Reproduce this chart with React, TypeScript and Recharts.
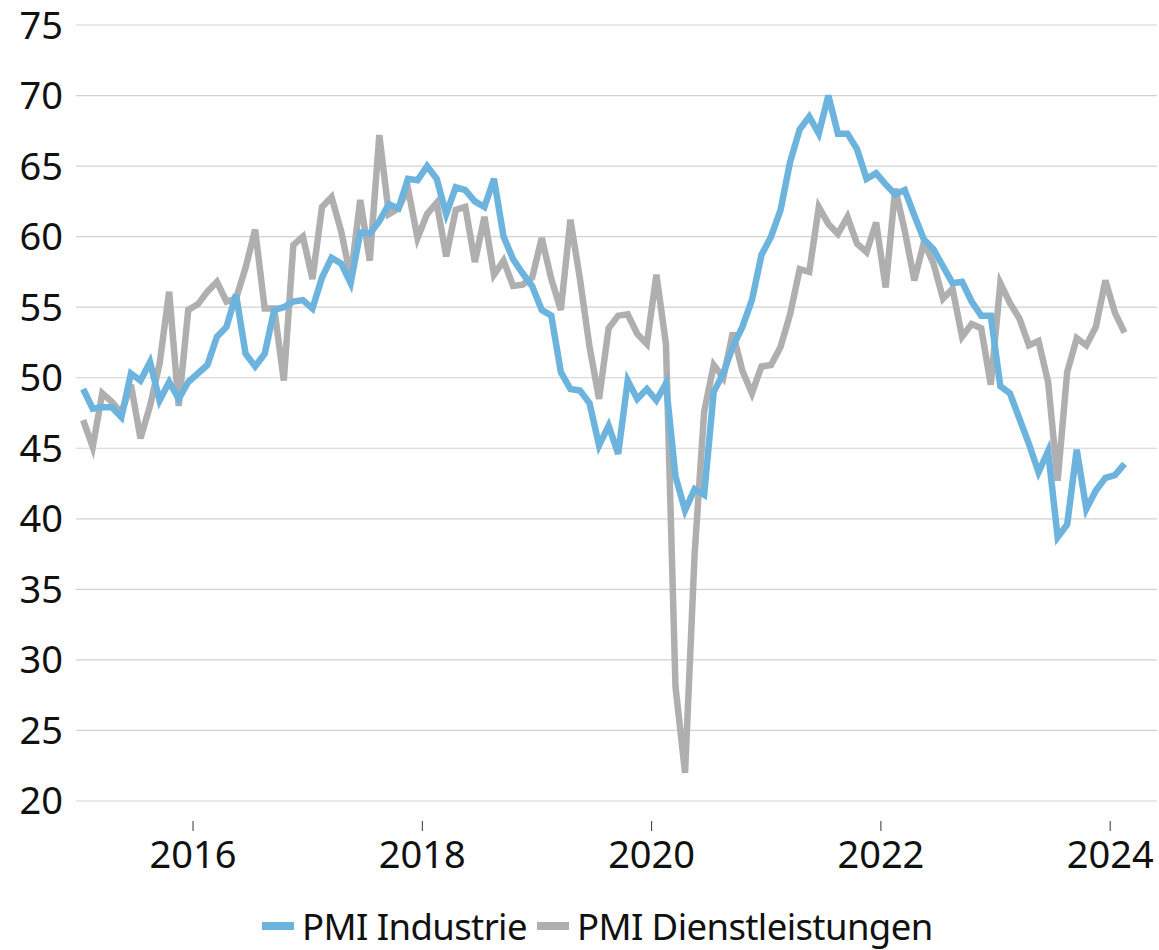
import React from "react";
import { CartesianGrid, Legend, Line, LineChart, XAxis, YAxis } from "recharts";

// monthly PMI, Jan 2015 .. Feb 2024
const INDUSTRIE = [
  49.2, 47.8, 47.9, 47.9, 47.2, 50.3, 49.8, 51.1, 48.4, 49.7, 48.5, 49.7,
  50.3, 50.9, 52.9, 53.6, 55.9, 51.7, 50.8, 51.7, 54.8, 55.0, 55.4, 55.5,
  54.9, 57.1, 58.5, 58.1, 56.7, 60.3, 60.2, 61.1, 62.3, 62.0, 64.1, 64.0,
  65.0, 64.1, 61.6, 63.5, 63.3, 62.5, 62.1, 64.1, 60.0, 58.4, 57.4, 56.5,
  54.8, 54.4, 50.4, 49.2, 49.1, 48.2, 45.2, 46.6, 44.6, 49.8, 48.5, 49.2,
  48.4, 49.6, 43.0, 40.6, 42.1, 41.7, 49.0, 50.3, 52.2, 53.6, 55.5, 58.7,
  60.0, 61.9, 65.3, 67.6, 68.5, 67.3, 70.0, 67.3, 67.3, 66.2, 64.1, 64.5,
  63.7, 63.0, 63.3, 61.5, 59.8, 59.1, 57.9, 56.7, 56.8, 55.4, 54.4, 54.4,
  49.4, 48.9, 47.1, 45.3, 43.3, 44.8, 38.7, 39.6, 44.9, 40.7, 42.0, 42.9,
  43.1, 43.9,
];

const DIENSTLEISTUNGEN = [
  47.0, 45.1, 48.9, 48.3, 47.5, 49.5, 45.7, 48.0, 51.0, 56.1, 48.0, 54.8,
  55.2, 56.1, 56.8, 55.4, 55.6, 57.8, 60.5, 54.9, 54.9, 49.8, 59.4, 60.0,
  57.0, 62.1, 62.8, 60.4, 57.1, 62.6, 58.3, 67.2, 61.6, 62.0, 63.4, 59.9,
  61.6, 62.4, 58.6, 61.9, 62.1, 58.2, 61.4, 57.3, 58.3, 56.5, 56.6, 57.1,
  59.9, 57.0, 54.8, 61.2, 57.0, 52.2, 48.5, 53.5, 54.4, 54.5, 53.1, 52.4,
  57.3, 52.4, 28.1, 22.0, 37.5, 47.6, 50.9, 50.0, 53.2, 50.5, 48.9, 50.8,
  50.9, 52.2, 54.5, 57.7, 57.5, 62.1, 60.9, 60.2, 61.4, 59.5, 58.9, 61.0,
  56.4, 63.4, 60.4, 56.9, 59.6, 58.1, 55.6, 56.3, 52.9, 53.8, 53.5, 49.5,
  56.7, 55.3, 54.2, 52.3, 52.6, 49.7, 42.7, 50.4, 52.8, 52.3, 53.6, 56.9,
  54.6, 53.2,
];

// month offsets from Jan 2015 where the year labels sit
const YEAR_TICKS = [12, 36, 60, 84, 108];
const YEAR_LABELS = ["2016", "2018", "2020", "2022", "2024"];
const Y_TICKS = [20, 25, 30, 35, 40, 45, 50, 55, 60, 65, 70, 75];

const SERIES = [
  { key: "industrie", name: "PMI Industrie", color: "#6cb4dd" },
  { key: "dienst", name: "PMI Dienstleistungen", color: "#afafaf" },
];

const FONT = "'Noto Sans', 'Open Sans', sans-serif";

const data = INDUSTRIE.map((v, i) => ({
  t: i + 0.5,
  industrie: v,
  dienst: DIENSTLEISTUNGEN[i],
}));

function YearTick(props: any) {
  const { x, y, payload } = props;
  const idx = YEAR_TICKS.indexOf(payload.value);
  return (
    <g>
      <line x1={x} x2={x} y1={y + 20} y2={y + 30} stroke="#333" strokeWidth={1} />
      <text x={x} y={y + 67} textAnchor="middle" fill="#111" fontSize={38} fontFamily={FONT}>
        {YEAR_LABELS[idx]}
      </text>
    </g>
  );
}

function LegendBox() {
  return (
    <div
      style={{
        display: "flex",
        alignItems: "center",
        height: 60,
        paddingLeft: 262,
        fontFamily: FONT,
        fontSize: 36.5,
        letterSpacing: "-0.6px",
        color: "#111",
        boxSizing: "border-box",
        paddingTop: 12,
      }}
    >
      {SERIES.map((s) => (
        <div key={s.key} style={{ display: "flex", alignItems: "center", marginRight: 10 }}>
          <span
            style={{
              display: "inline-block",
              width: 32,
              height: 8,
              background: s.color,
              marginRight: 8,
            }}
          />
          <span style={{ lineHeight: "44px" }}>{s.name}</span>
        </div>
      ))}
    </div>
  );
}

export default function App() {
  return (
    <div style={{ position: "absolute", left: 0, top: 0, width: 1159, height: 950, background: "#fff" }}>
      <LineChart
        width={1159}
        height={950}
        data={data}
        margin={{ top: 25, right: 2, left: 0, bottom: 0 }}
      >
        <CartesianGrid vertical={false} stroke="#d2d2d2" strokeWidth={1.2} />
        <XAxis
          dataKey="t"
          type="number"
          domain={[-0.25, 112.9]}
          ticks={YEAR_TICKS}
          interval={0}
          axisLine={false}
          tickLine={false}
          tickSize={0}
          tickMargin={0}
          height={89}
          tick={<YearTick />}
        />
        <YAxis
          domain={[20, 75]}
          ticks={Y_TICKS}
          interval={0}
          axisLine={false}
          tickLine={false}
          tickSize={0}
          tickMargin={13}
          width={76}
          tick={{ fontSize: 38, fill: "#111", fontFamily: FONT }}
        />
        <Legend verticalAlign="bottom" content={() => <LegendBox />} wrapperStyle={{ left: 0, width: 1159 }} />
        <Line
          type="linear"
          dataKey="dienst"
          name="PMI Dienstleistungen"
          stroke="#afafaf"
          strokeWidth={6.5}
          dot={false}
          isAnimationActive={false}
        />
        <Line
          type="linear"
          dataKey="industrie"
          name="PMI Industrie"
          stroke="#6cb4dd"
          strokeWidth={6.5}
          dot={false}
          isAnimationActive={false}
        />
      </LineChart>
    </div>
  );
}
